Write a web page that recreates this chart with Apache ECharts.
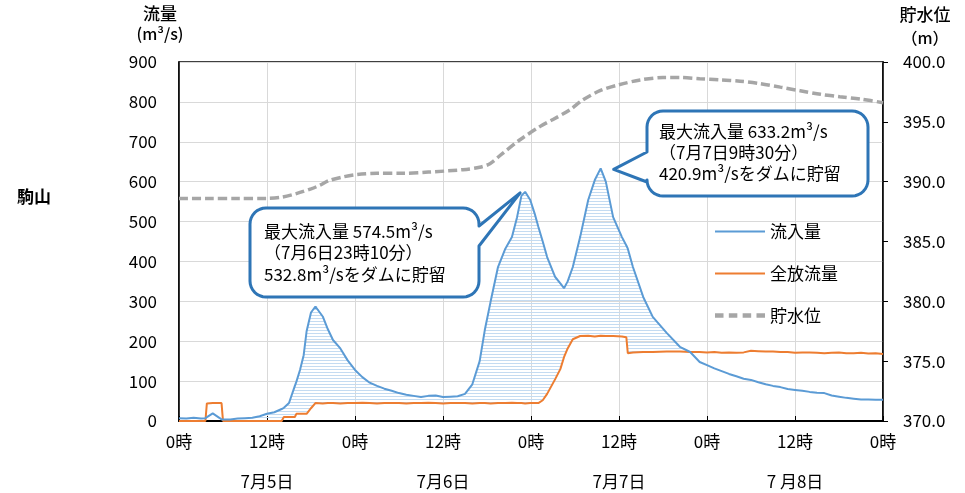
<!DOCTYPE html>
<html><head><meta charset="utf-8">
<script src="https://cdn.jsdelivr.net/npm/echarts@6/dist/echarts.min.js"></script>
<style>html,body{margin:0;padding:0;background:#fff}#c{width:965px;height:493px}</style>
</head><body><div id="c"></div>
<script>
// hours since 7/5 0時
const hours = [
  0,1,2,3,3.6,3.8,4.6,5.5,5.8,6,
  7,8,9,10,11,12,13,14,14.3,15,
  15.8,16,16.5,17,17.4,18,18.6,18.8,19.6,20.3,
  21,22,23,24,25,26,27,28,29,30,
  31,32,33,34,35,36,37,38,39,40,
  41,41.7,42.5,43.5,44.5,45.4,46.1,46.7,47.2,47.9,
  48.5,49,49.6,50.2,51.3,52,52.5,53,53.7,54.7,
  55.8,56.7,57.5,58.2,59.2,60.4,61,61.2,61.9,63.3,
  64.6,66.5,68.3,69.7,71,72,73,74,75,76,
  77,78,79,80,81,82,83,84,85,86,
  87,88,89,90,91,92,93,94,95,96
];
const inflow = [
  7,6,8,6,7,8,19,8,4,3,
  4,6,7,8,12,18,22,30,33,45,
  88,98,128,165,225,272,287,288,262,230,
  203,182,152,128,110,96,88,81,76,70,
  66,63,60,63,64,60,61,62,68,92,
  150,228,300,386,432,461,511,565,574.5,554,
  520,487,450,411,361,345,333,350,386,461,
  554,604,633.2,600,511,461,440,432,386,311,
  261,221,186,173,148,140,132,125,118,112,
  106,103,97,92,88,85,80,78,76,73,
  71,70,64,61,58,56,54,54,53,53
];
const outflow = [
  0,0,0,0,0,44,45,45,45,0,
  0,0,0,0,0,0,0,0,10,10,
  10,18,18,18,18,32,45,45,44,45,
  45,44,45,45,46,45,44,45,45,45,
  44,45,45,46,45,44,45,45,45,44,
  45,45,44,45,45,46,45,45,44,45,
  45,45,52,68,105,130,160,182,205,213,
  214,212,214,213,213,212,210,170,172,173,
  173,174,174,173,173,172,173,171,172,171,
  172,176,175,174,174,173,173,171,172,172,
  171,170,171,172,170,170,171,169,170,168
];
const levelHours = [0,4,8,12,14,16,18,19.2,20.5,22.4,24.3,27,30.5,34,38.7,41,42.4,44,46.5,49.2,51,53.3,55,57.4,60,62.9,66,68.3,71,73.8,76.5,79.2,82,84.7,87.5,90.1,93,96];
const levelValues = [388.6,388.6,388.6,388.6,388.7,389.0,389.4,389.7,390.1,390.4,390.6,390.7,390.7,390.8,391.0,391.2,391.5,392.3,393.5,394.6,395.2,396.0,396.8,397.6,398.1,398.5,398.7,398.7,398.6,398.5,398.4,398.2,397.9,397.6,397.3,397.1,396.9,396.6];
const dayLabels = ['7月5日','7月6日','7月7日','7 月8日'];
const leftTicks = {min:0, max:900, interval:100};
const rightTicks = {min:370, max:400, interval:5};
const peaks = [
  {h:47.2, v:574.5, lines:['最大流入量 574.5m³/s','（7月6日23時10分）','532.8m³/sをダムに貯留']},
  {h:57.5, v:633.2, lines:['最大流入量 633.2m³/s','（7月7日9時30分）','420.9m³/sをダムに貯留']}
];

const FONT = '"Noto Sans CJK JP", "Noto Sans", sans-serif';
const inData = hours.map((h,i)=>[h, inflow[i]]);
const outData = hours.map((h,i)=>[h, outflow[i]]);
const lvData = levelHours.map((h,i)=>[h, levelValues[i]]);

const pc = document.createElement('canvas');
pc.width = 8; pc.height = 3;
const pctx = pc.getContext('2d');
pctx.fillStyle = '#c4dbf1';
pctx.fillRect(0,0,8,1);

function fillRender(params, api){
  const top = hours.map((h,i)=>api.coord([h, Math.max(inflow[i], outflow[i])]));
  const bot = hours.map((h,i)=>api.coord([h, outflow[i]])).reverse();
  return {type:'polygon', shape:{points:top.concat(bot)}, style:{fill:{image:pc, repeat:'repeat'}, stroke:null}, silent:true};
}

const chart = echarts.init(document.getElementById('c'), null, {renderer:'canvas'});
chart.setOption({
  animation:false,
  textStyle:{fontFamily:FONT},
  grid:{left:179, right:82, top:62, bottom:72, show:true, borderColor:'#000', borderWidth:1.5, backgroundColor:'transparent'},
  xAxis:[{
    type:'value', min:0, max:96, interval:12,
    axisLine:{show:true, lineStyle:{color:'#000', width:2}},
    axisTick:{show:true, inside:true, length:5, lineStyle:{color:'#000'}},
    splitLine:{show:true, lineStyle:{color:'#d9d9d9', width:1}},
    axisLabel:{margin:12, fontSize:17, color:'#000', fontFamily:FONT, formatter:v=>(v%24)+'時'}
  },{
    type:'category', data:dayLabels, position:'bottom', offset:44, boundaryGap:true,
    axisLine:{show:false}, axisTick:{show:false}, splitLine:{show:false},
    axisLabel:{margin:8, fontSize:17, color:'#000', fontFamily:FONT}
  }],
  yAxis:[{
    type:'value', min:leftTicks.min, max:leftTicks.max, interval:leftTicks.interval,
    axisLine:{show:true, lineStyle:{color:'#000', width:1.5}},
    axisTick:{show:false},
    splitLine:{show:true, lineStyle:{color:'#d9d9d9', width:1}},
    axisLabel:{margin:22, fontSize:17, color:'#000', fontFamily:FONT}
  },{
    type:'value', min:rightTicks.min, max:rightTicks.max, interval:rightTicks.interval, position:'right',
    axisLine:{show:true, lineStyle:{color:'#000', width:1.5}},
    axisTick:{show:true, length:5, lineStyle:{color:'#000'}},
    splitLine:{show:false},
    axisLabel:{margin:20, fontSize:17, color:'#000', fontFamily:FONT, formatter:v=>v.toFixed(1)}
  }],
  legend:{
    orient:'vertical', left:710, top:218, itemWidth:50, itemHeight:14, itemGap:25,
    textStyle:{fontSize:17, color:'#000', fontFamily:FONT},
    data:[
      {name:'流入量', icon:'path://M0,6H50V8H0Z', itemStyle:{color:'#5b9bd5'}},
      {name:'全放流量', icon:'path://M0,6H50V8H0Z', itemStyle:{color:'#ed7d31'}},
      {name:'貯水位', icon:'path://M0,5H8V9H0ZM13,5H21V9H13ZM26,5H34V9H26ZM39,5H47V9H39Z', itemStyle:{color:'#a6a6a6'}}
    ]
  },
  series:[
    {name:'fill', type:'custom', renderItem:fillRender, data:[[0,0]], silent:true, z:1, clip:true},
    {name:'貯水位', type:'line', yAxisIndex:1, data:lvData, symbol:'none', smooth:0.3,
      lineStyle:{color:'#a6a6a6', width:3.5, type:[9,4]}, itemStyle:{color:'#a6a6a6'}, z:3},
    {name:'全放流量', type:'line', data:outData, symbol:'none', lineStyle:{color:'#ed7d31', width:2}, itemStyle:{color:'#ed7d31'}, z:4},
    {name:'流入量', type:'line', data:inData, symbol:'none', lineStyle:{color:'#5b9bd5', width:2}, itemStyle:{color:'#5b9bd5'}, z:5}
  ]
});

function arcPts(cx,cy,r,a0,a1){
  const pts=[];
  for(let k=0;k<=8;k++){const a=a0+(a1-a0)*k/8; pts.push([cx+r*Math.cos(a), cy+r*Math.sin(a)]);}
  return pts;
}
function bubble(x1,y1,x2,y2,r,side,a,b,tx,ty){
  const P=Math.PI; let p=[];
  p = p.concat(arcPts(x1+r,y1+r,r,P,1.5*P));
  p = p.concat(arcPts(x2-r,y1+r,r,1.5*P,2*P));
  if(side==='right') p.push([x2,a],[tx,ty],[x2,b]);
  p = p.concat(arcPts(x2-r,y2-r,r,0,0.5*P));
  p = p.concat(arcPts(x1+r,y2-r,r,0.5*P,P));
  if(side==='left') p.push([x1,b],[tx,ty],[x1,a]);
  return p;
}
const t1 = chart.convertToPixel({xAxisIndex:0, yAxisIndex:0}, [peaks[0].h, peaks[0].v]);
const t2 = chart.convertToPixel({xAxisIndex:0, yAxisIndex:0}, [peaks[1].h, peaks[1].v]);
const boxes = [
  {x1:250,y1:208,x2:479,y2:297,side:'right',a:226,b:246,tip:[t1[0]-5,t1[1]+1],tx:264,ty:[232,253,275],lines:peaks[0].lines},
  {x1:647,y1:111,x2:868,y2:196,side:'left',a:152,b:182,tip:[t2[0]+13,t2[1]+1],tx:659,ty:[132,153,174],lines:peaks[1].lines}
];
const g = [];
boxes.forEach(bx=>{
  g.push({type:'polygon', z:50, shape:{points:bubble(bx.x1,bx.y1,bx.x2,bx.y2,16,bx.side,bx.a,bx.b,bx.tip[0],bx.tip[1])},
    style:{fill:'#fff', stroke:'#2e75b6', lineWidth:3, lineJoin:'round'}});
  bx.lines.forEach((ln,i)=>g.push({type:'text', z:51, x:bx.tx, y:bx.ty[i],
    style:{text:ln, font:`17px ${FONT}`, fill:'#000', textVerticalAlign:'middle'}}));
});
g.push({type:'text', x:160, y:14, style:{text:'流量', font:`500 17px ${FONT}`, fill:'#000', textAlign:'center', textVerticalAlign:'middle'}});
g.push({type:'text', x:160, y:34, style:{text:'(m³/s)', font:`500 16px ${FONT}`, fill:'#000', textAlign:'center', textVerticalAlign:'middle'}});
g.push({type:'text', x:925, y:15, style:{text:'貯水位', font:`500 17px ${FONT}`, fill:'#000', textAlign:'center', textVerticalAlign:'middle'}});
g.push({type:'text', x:925, y:38, style:{text:'（m）', font:`500 16px ${FONT}`, fill:'#000', textAlign:'center', textVerticalAlign:'middle'}});
g.push({type:'text', x:17, y:197, style:{text:'駒山', font:`bold 17px ${FONT}`, fill:'#000', textVerticalAlign:'middle'}});
chart.setOption({graphic:g});
</script></body></html>
